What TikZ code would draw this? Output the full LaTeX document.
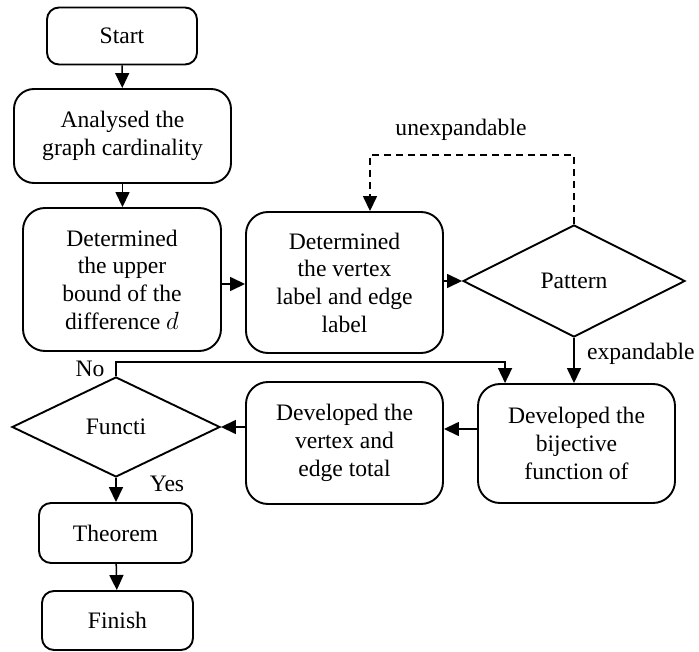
\documentclass[tikz,border=0pt]{standalone}
\usepackage{fontspec}
\setmainfont{Liberation Serif}
\usetikzlibrary{arrows.meta,shapes.geometric}
\tikzset{
  box/.style={draw, line width=1.9pt, rounded corners=#1, align=center, inner sep=0pt, font=\fontsize{23.6}{27.7}\selectfont},
  box/.default=20pt,
  dec/.style={draw, line width=1.9pt, diamond, inner sep=0pt, aspect=2, font=\fontsize{23.6}{27.7}\selectfont},
  arr/.style={line width=1.5pt, -{Triangle[length=15pt,width=14pt]}},
  lbl/.style={font=\fontsize{23.6}{27.7}\selectfont, inner sep=0pt}
}
\begin{document}
\begin{tikzpicture}[x=1pt,y=-1pt]
\useasboundingbox (0,0) rectangle (699,652);
\node[box=12pt, minimum width=150pt, minimum height=57pt] (start) at (122,36) {Start};
\node[box, minimum width=217pt, minimum height=94pt] (anal) at (122.5,136) {Analysed the\\graph cardinality};
\node[box=22pt, minimum width=198pt, minimum height=143pt] (upper) at (122,279.5) {Determined\\the upper\\bound of the\\difference $d$};
\node[box=22pt, minimum width=197pt, minimum height=141pt] (vert) at (344.5,282.5) {Determined\\the vertex\\label and edge\\label};
\node[dec, minimum width=222pt, minimum height=112pt] (pat) at (574,281) {Pattern};
\node[box=22pt, minimum width=197pt, minimum height=119pt] (bij) at (576.5,443.5) {Developed the\\bijective\\function of};
\node[box=22pt, minimum width=197pt, minimum height=122pt] (vtot) at (344.5,443) {Developed the\\vertex and\\edge total};
\node[dec, minimum width=208pt, minimum height=100pt] (fun) at (116,427) {Functi};
\node[box=12pt, minimum width=153pt, minimum height=60pt] (thm) at (115.5,533) {Theorem};
\node[box=12pt, minimum width=151pt, minimum height=59pt] (fin) at (117.5,620.5) {Finish};

\draw[arr] (start) -- (anal);
\draw[arr] (anal.south) -- (anal.south |- upper.north);
\draw[arr] (upper.east |- 0,284) -- (vert.west |- 0,284);
\draw[arr] (vert.east |- pat.west) -- (pat.west);
\draw[arr, dashed, dash pattern=on 7pt off 5pt] (pat.north) -- (pat.north |- 0,155) -| ([xshift=25.5pt]vert.north);
\node[lbl] (unexp) at (461,130) {unexpandable};
\draw[arr] (pat.south) -- (pat.south |- bij.north);
\node[lbl, anchor=west] (exp) at (587,354) {expandable};
\draw[arr] (bij.west |- 0,429) -- (vtot.east |- 0,429);
\draw[arr] (vtot.west |- fun.east) -- (fun.east);
\draw[arr] (fun.north) -- (fun.north |- 0,362) -| ([xshift=28pt]bij.north west);
\node[lbl] (no) at (90,369) {No};
\draw[arr] (fun.south) -- (fun.south |- thm.north);
\node[lbl] (yes) at (167,484) {Yes};
\draw[arr] (thm) -- (fin);
\end{tikzpicture}
\end{document}
